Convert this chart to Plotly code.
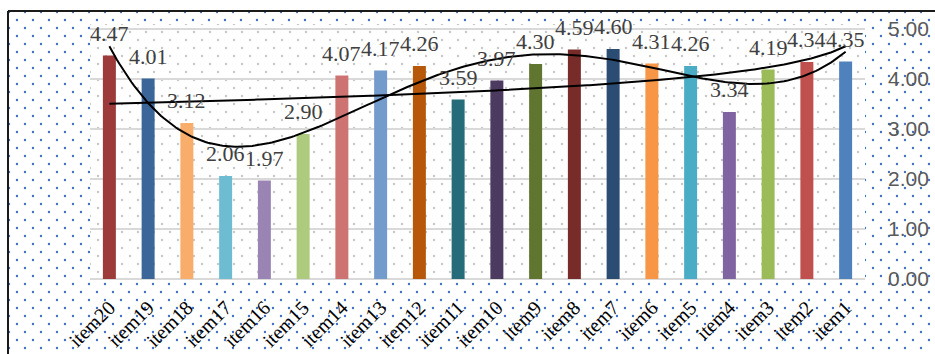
import numpy as np
import plotly.graph_objects as go

# ---------------- data ----------------
categories = ["item20", "item19", "item18", "item17", "item16", "item15", "item14",
              "item13", "item12", "item11", "item10", "item9", "item8", "item7",
              "item6", "item5", "item4", "item3", "item2", "item1"]
item_numbers = [20, 19, 18, 17, 16, 15, 14, 13, 12, 11, 10, 9, 8, 7, 6, 5, 4, 3, 2, 1]
values = [4.47, 4.01, 3.12, 2.06, 1.97, 2.90, 4.07, 4.17, 4.26, 3.59,
          3.97, 4.30, 4.59, 4.60, 4.31, 4.26, 3.34, 4.19, 4.34, 4.35]
bar_colors = ["#9D3A3A", "#3A6699", "#F9AD6A", "#6DBCD1", "#9A84B3", "#AECA7C",
              "#CD7371", "#739BCC", "#B6570A", "#256B7A", "#4C3A60", "#60752F",
              "#772C2A", "#2B4D74", "#F79646", "#4BACC6", "#8064A2", "#9BBB59",
              "#C0504D", "#4F81BD"]
y_ticks = [0, 1, 2, 3, 4, 5]
y_tick_labels = ["0.00", "1.00", "2.00", "3.00", "4.00", "5.00"]
poly_order = 4

# ---------------- geometry helpers ----------------
W, H = 935, 354
def fx(px):
    return px / W
def fy(py):
    return 1 - py / H

PL, PR, PT, PB = 90, 865, 24, 279      # plot area in pixels
BL, BT = 9, 12                          # inside of outer border
SP = 16                                 # dot lattice spacing
HS = SP // 2
CLEAR = "rgba(0,0,0,0)"

fig = go.Figure()

def pattern_bar(ax, dom_x_px, dom_y_px, cover_x_px, cover_y_px, bg, fg, solidity):
    """A single bar covering a pixel region, filled with a dot pattern."""
    x0p, x1p = dom_x_px
    y0p, y1p = dom_y_px   # top, bottom pixel of domain
    cx0 = (cover_x_px[0] - x0p) / (x1p - x0p)
    cx1 = (cover_x_px[1] - x0p) / (x1p - x0p)
    ctop = (y1p - cover_y_px[0]) / (y1p - y0p)
    cbot = (y1p - cover_y_px[1]) / (y1p - y0p)
    sfx = "" if ax == 1 else str(ax)
    fig.add_trace(go.Bar(
        x=[(cx0 + cx1) / 2], y=[ctop - cbot], base=[cbot], width=[cx1 - cx0],
        marker=dict(color=bg, line=dict(width=0),
                    pattern=dict(shape=".", size=SP, solidity=solidity,
                                 fgcolor=fg, bgcolor=bg, fillmode="replace")),
        xaxis="x" + sfx, yaxis="y" + sfx, hoverinfo="skip", showlegend=False))
    fig.layout["xaxis" + sfx] = dict(domain=[fx(x0p), fx(x1p)], range=[0, 1],
                                     visible=False, fixedrange=True)
    fig.layout["yaxis" + sfx] = dict(domain=[fy(y1p), fy(y0p)], range=[0, 1],
                                     visible=False, fixedrange=True)

BLUE = "#4472C4"
GRAY = "#C8C8C8"
# outer chart area: blue dots (two offset lattices -> staggered)
pattern_bar(1, (BL, W), (BT, H), (BL, W), (BT, H), "white", BLUE, 0.018)
pattern_bar(2, (BL - HS, W), (BT - HS, H), (BL, W), (BT, H), CLEAR, BLUE, 0.018)
# plot area: white with light gray dots
pattern_bar(3, (PL, PR), (PT, PB), (PL, PR), (PT, PB), "white", GRAY, 0.018)
pattern_bar(4, (PL - HS, PR), (PT - HS, PB), (PL, PR), (PT, PB), CLEAR, GRAY, 0.018)

# ---------------- main chart ----------------
positions = list(range(len(categories)))
fig.add_trace(go.Bar(
    x=positions, y=values, width=0.335,
    marker=dict(color=bar_colors, line=dict(width=0)),
    xaxis="x5", yaxis="y5", showlegend=False))

xn = np.array(item_numbers, dtype=float)
yv = np.array(values, dtype=float)
t = np.linspace(1, 20, 300)

# logarithmic trendline
b_log, a_log = np.polyfit(np.log(xn), yv, 1)
fig.add_trace(go.Scatter(
    x=20 - t, y=a_log + b_log * np.log(t), mode="lines",
    line=dict(color="black", width=2), xaxis="x5", yaxis="y5",
    showlegend=False, hoverinfo="skip"))

# polynomial trendline
coef = np.polyfit(xn, yv, poly_order)
fig.add_trace(go.Scatter(
    x=20 - t, y=np.polyval(coef, t), mode="lines",
    line=dict(color="black", width=2), xaxis="x5", yaxis="y5",
    showlegend=False, hoverinfo="skip"))

fig.update_layout(
    xaxis5=dict(domain=[fx(PL), fx(PR)], range=[-0.5, 19.5],
                tickmode="array", tickvals=positions, ticktext=categories,
                tickangle=-45, ticks="", showgrid=False, zeroline=False,
                showline=False, ticklabelstandoff=12,
                tickfont=dict(family="Liberation Serif", size=20, color="#000000"),
                anchor="y5", fixedrange=True),
    yaxis5=dict(domain=[fy(PB), fy(PT)], range=[0, 5.1], side="right",
                tickmode="array", tickvals=y_ticks, ticktext=y_tick_labels,
                showgrid=True, gridcolor="#D9D9D9", gridwidth=2,
                zeroline=True, zerolinecolor="#D9D9D9", zerolinewidth=2,
                ticks="", showline=False, ticklabelstandoff=22,
                tickfont=dict(family="Liberation Sans", size=21, color="#595959"),
                anchor="x5", fixedrange=True),
)

annotations = []
for p, v in zip(positions, values):
    annotations.append(dict(
        x=p, y=v, xref="x5", yref="y5", text=f"{v:.2f}", showarrow=False,
        xanchor="center", yanchor="bottom", yshift=8,
        font=dict(family="Liberation Serif", size=22, color="#404040")))

shapes = [
    dict(type="line", xref="paper", yref="paper", x0=fx(8), x1=fx(8),
         y0=fy(11), y1=-0.1, line=dict(color="#1A1A1A", width=2)),
    dict(type="line", xref="paper", yref="paper", x0=fx(8), x1=1.1,
         y0=fy(11), y1=fy(11), line=dict(color="#1A1A1A", width=2)),
]

fig.update_layout(
    template="none",
    width=W, height=H, autosize=False,
    margin=dict(l=0, r=0, t=0, b=0, pad=0),
    paper_bgcolor="white", plot_bgcolor=CLEAR,
    showlegend=False, barmode="overlay",
    annotations=annotations, shapes=shapes,
)

fig.write_html("out.html", config={"displayModeBar": False})
